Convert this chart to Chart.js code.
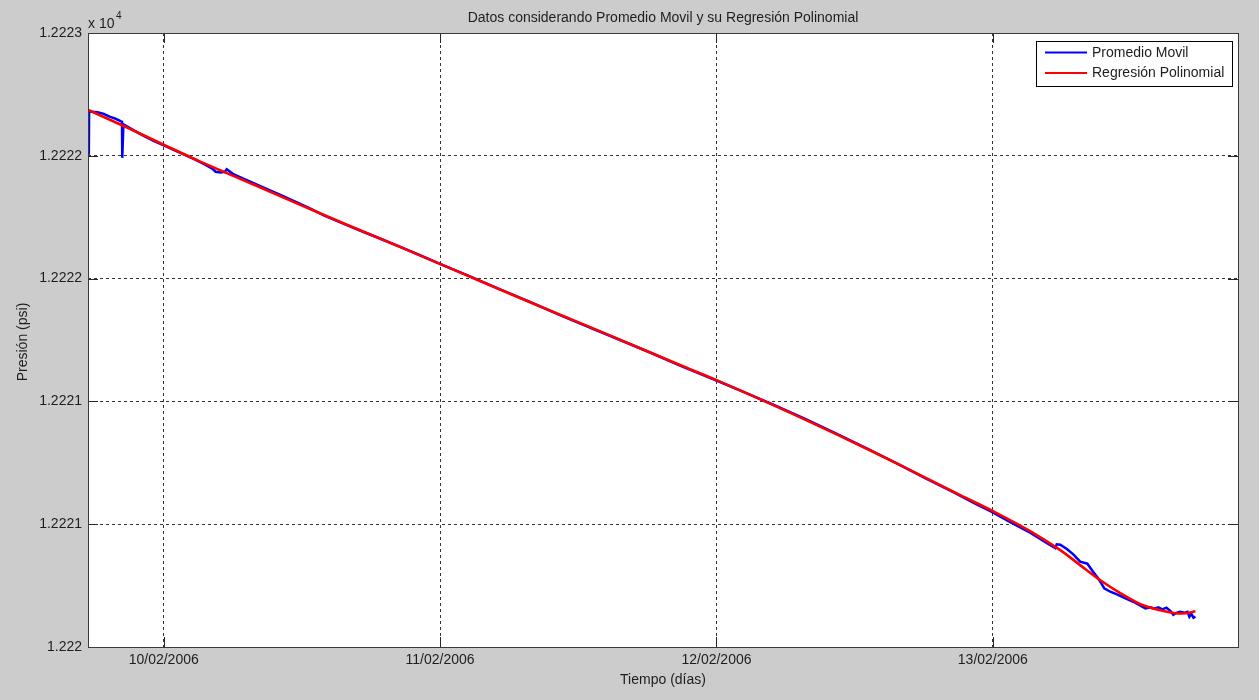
<!DOCTYPE html>
<html>
<head>
<meta charset="utf-8">
<script src="https://cdn.jsdelivr.net/npm/chart.js@4.4.1/dist/chart.umd.min.js"></script>
<style>
  html, body { margin: 0; padding: 0; background: #cccccc; }
  #wrap { width: 1259px; height: 700px; position: relative; }
</style>
</head>
<body>
<div id="wrap"><canvas id="c" width="1259" height="700"></canvas></div>
<script>
// Time axis: days counted from 10/02/2006 00:00
const dayTicks = [0, 1, 2, 3];
const dayLabels = ['10/02/2006', '11/02/2006', '12/02/2006', '13/02/2006'];

// Pressure axis (psi); labels shown scaled by 10^4
const pressureTicks = [12220, 12220.6, 12221.2, 12221.8, 12222.4, 12223];
const pressureTickLabels = ['1.222', '1.2221', '1.2221', '1.2222', '1.2222', '1.2223'];

// Moving average of the pressure record
const movilDays = [-0.271, -0.270, -0.261, -0.239, -0.217, -0.196, -0.174, -0.156, -0.151, -0.150,
  -0.148, -0.146, -0.130, -0.105, -0.069, -0.033, 0.000, 0.040, 0.076, 0.112,
  0.148, 0.174, 0.188, 0.206, 0.221, 0.228, 0.250, 0.282, 0.319, 0.366,
  0.420, 0.474, 0.529, 0.583, 0.637, 0.710, 0.782, 0.854, 0.927, 0.999,
  1.108, 1.217, 1.325, 1.434, 1.542, 1.651, 1.760, 1.868, 2.000, 2.104,
  2.212, 2.321, 2.430, 2.538, 2.647, 2.755, 2.864, 2.936, 2.998, 3.063,
  3.135, 3.190, 3.226, 3.231, 3.244, 3.269, 3.291, 3.316, 3.342, 3.360,
  3.378, 3.392, 3.403, 3.425, 3.447, 3.472, 3.508, 3.534, 3.552, 3.570,
  3.584, 3.599, 3.613, 3.628, 3.642, 3.653, 3.664, 3.678, 3.693, 3.704,
  3.711, 3.718, 3.726, 3.733];
const movilPsi = [12222.405, 12222.615, 12222.615, 12222.613, 12222.605, 12222.591, 12222.581, 12222.569, 12222.566, 12222.390,
  12222.390, 12222.554, 12222.542, 12222.522, 12222.495, 12222.471, 12222.451, 12222.427, 12222.405, 12222.383,
  12222.358, 12222.339, 12222.322, 12222.319, 12222.322, 12222.334, 12222.312, 12222.292, 12222.270, 12222.242,
  12222.210, 12222.177, 12222.143, 12222.107, 12222.076, 12222.035, 12221.996, 12221.956, 12221.914, 12221.872,
  12221.811, 12221.747, 12221.686, 12221.622, 12221.561, 12221.500, 12221.439, 12221.375, 12221.302, 12221.243,
  12221.180, 12221.114, 12221.045, 12220.974, 12220.901, 12220.825, 12220.752, 12220.700, 12220.659, 12220.610,
  12220.559, 12220.512, 12220.483, 12220.502, 12220.500, 12220.478, 12220.453, 12220.417, 12220.407, 12220.373,
  12220.341, 12220.312, 12220.287, 12220.270, 12220.258, 12220.243, 12220.221, 12220.202, 12220.189, 12220.194,
  12220.187, 12220.194, 12220.184, 12220.192, 12220.177, 12220.157, 12220.167, 12220.172, 12220.167, 12220.172,
  12220.148, 12220.162, 12220.143, 12220.148];

// Polynomial fit of the moving average
const regDays = [-0.275, -0.123, 0.000, 0.130, 0.348, 0.565, 0.782, 1.000, 1.289, 1.579,
  1.868, 2.000, 2.230, 2.448, 2.665, 2.882, 3.000, 3.135, 3.244, 3.316,
  3.389, 3.461, 3.534, 3.606, 3.660, 3.697, 3.733];
const regPsi = [12222.625, 12222.532, 12222.454, 12222.373, 12222.246, 12222.119, 12221.996, 12221.872, 12221.705, 12221.542,
  12221.378, 12221.304, 12221.167, 12221.030, 12220.889, 12220.742, 12220.664, 12220.566, 12220.473, 12220.400,
  12220.326, 12220.263, 12220.209, 12220.179, 12220.165, 12220.165, 12220.175];

const FONT = "'Liberation Sans', Arial, Helvetica, sans-serif";
const TEXT = '#1e1e1e';
const FS = 14;

const toPoints = (xs, ys) => xs.map((x, i) => ({ x: x, y: ys[i] }));

// Figure background, axes box, inward ticks, texts and legend
const figure = {
  id: 'figure',
  beforeDraw(chart) {
    const { ctx, chartArea: a } = chart;
    ctx.save();
    ctx.fillStyle = '#cccccc';
    ctx.fillRect(0, 0, chart.width, chart.height);
    ctx.fillStyle = '#ffffff';
    ctx.fillRect(a.left, a.top, a.right - a.left, a.bottom - a.top);
    ctx.restore();
  },
  afterDraw(chart) {
    const { ctx, chartArea: a, scales } = chart;
    ctx.save();
    // inward tick marks
    ctx.strokeStyle = '#262626';
    ctx.lineWidth = 1;
    const tl = 10;
    ctx.beginPath();
    dayTicks.forEach(v => {
      const px = Math.round(scales.x.getPixelForValue(v)) + 0.5;
      ctx.moveTo(px, a.bottom); ctx.lineTo(px, a.bottom - tl);
      ctx.moveTo(px, a.top); ctx.lineTo(px, a.top + tl);
    });
    pressureTicks.forEach(v => {
      const py = Math.round(scales.y.getPixelForValue(v)) + 0.5;
      ctx.moveTo(a.left, py); ctx.lineTo(a.left + tl, py);
      ctx.moveTo(a.right, py); ctx.lineTo(a.right - tl, py);
    });
    ctx.stroke();
    // axes box
    ctx.strokeStyle = '#3a3a3a';
    ctx.strokeRect(Math.round(a.left) + 0.5, Math.round(a.top) + 0.5,
      Math.round(a.right - a.left), Math.round(a.bottom - a.top));

    // texts
    ctx.fillStyle = TEXT;
    ctx.font = FS + 'px ' + FONT;
    ctx.textAlign = 'center';
    ctx.textBaseline = 'middle';
    const cx = (a.left + a.right) / 2;
    ctx.fillText('Datos considerando Promedio Movil y su Regresión Polinomial', cx, 18);
    ctx.fillText('Tiempo (días)', cx, 680);
    ctx.save();
    ctx.translate(23, (a.top + a.bottom) / 2 + 2);
    ctx.rotate(-Math.PI / 2);
    ctx.fillText('Presión (psi)', 0, 0);
    ctx.restore();
    // axis multiplier
    ctx.textAlign = 'left';
    ctx.textBaseline = 'alphabetic';
    ctx.fillText('x 10', a.left, 28);
    ctx.font = '10px ' + FONT;
    ctx.fillText('4', a.left + 28, 19);

    // legend
    const lx = 1036.5, ly = 41.5, lw = 196, lh = 45;
    ctx.fillStyle = '#ffffff';
    ctx.fillRect(lx, ly, lw, lh);
    ctx.strokeStyle = '#000000';
    ctx.lineWidth = 1;
    ctx.strokeRect(lx, ly, lw, lh);
    ctx.font = FS + 'px ' + FONT;
    ctx.textBaseline = 'middle';
    const rows = [52.5, 73];
    chart.data.datasets.forEach((ds, i) => {
      ctx.strokeStyle = ds.borderColor;
      ctx.lineWidth = 2;
      ctx.beginPath();
      ctx.moveTo(1045, rows[i]); ctx.lineTo(1087, rows[i]);
      ctx.stroke();
      ctx.fillStyle = TEXT;
      ctx.fillText(ds.label, 1092, rows[i] + 0.5);
    });
    ctx.restore();
  }
};

new Chart(document.getElementById('c'), {
  type: 'line',
  data: {
    datasets: [
      {
        label: 'Promedio Movil',
        data: toPoints(movilDays, movilPsi),
        borderColor: '#0000ff',
        borderWidth: 2.5,
        pointRadius: 0,
        tension: 0,
        order: 1
      },
      {
        label: 'Regresión Polinomial',
        data: toPoints(regDays, regPsi),
        borderColor: '#ff0000',
        borderWidth: 2.6,
        pointRadius: 0,
        tension: 0.3,
        order: 0
      }
    ]
  },
  options: {
    responsive: false,
    animation: false,
    layout: { padding: { left: 0, top: 33, right: 21, bottom: 0 } },
    plugins: { legend: { display: false }, title: { display: false }, tooltip: { enabled: false } },
    scales: {
      x: {
        type: 'linear',
        min: -0.274,
        max: 3.887,
        afterBuildTicks: s => { s.ticks = dayTicks.map(v => ({ value: v })); },
        afterFit: s => { s.height = 53; },
        ticks: {
          callback: (v, i) => dayLabels[i],
          font: { family: FONT, size: FS },
          color: TEXT,
          padding: 5,
          maxRotation: 0,
          autoSkip: false
        },
        grid: { color: 'rgba(0,0,0,0.8)', lineWidth: 1, drawTicks: false },
        border: { display: false, dash: [3, 3] }
      },
      y: {
        type: 'linear',
        min: 12220,
        max: 12223,
        afterBuildTicks: s => { s.ticks = pressureTicks.map(v => ({ value: v })); },
        afterFit: s => { s.width = 88; },
        ticks: {
          callback: (v, i) => pressureTickLabels[i],
          font: { family: FONT, size: FS },
          color: TEXT,
          padding: 6,
          autoSkip: false
        },
        grid: { color: 'rgba(0,0,0,0.8)', lineWidth: 1, drawTicks: false },
        border: { display: false, dash: [3, 3] }
      }
    }
  },
  plugins: [figure]
});
</script>
</body>
</html>
